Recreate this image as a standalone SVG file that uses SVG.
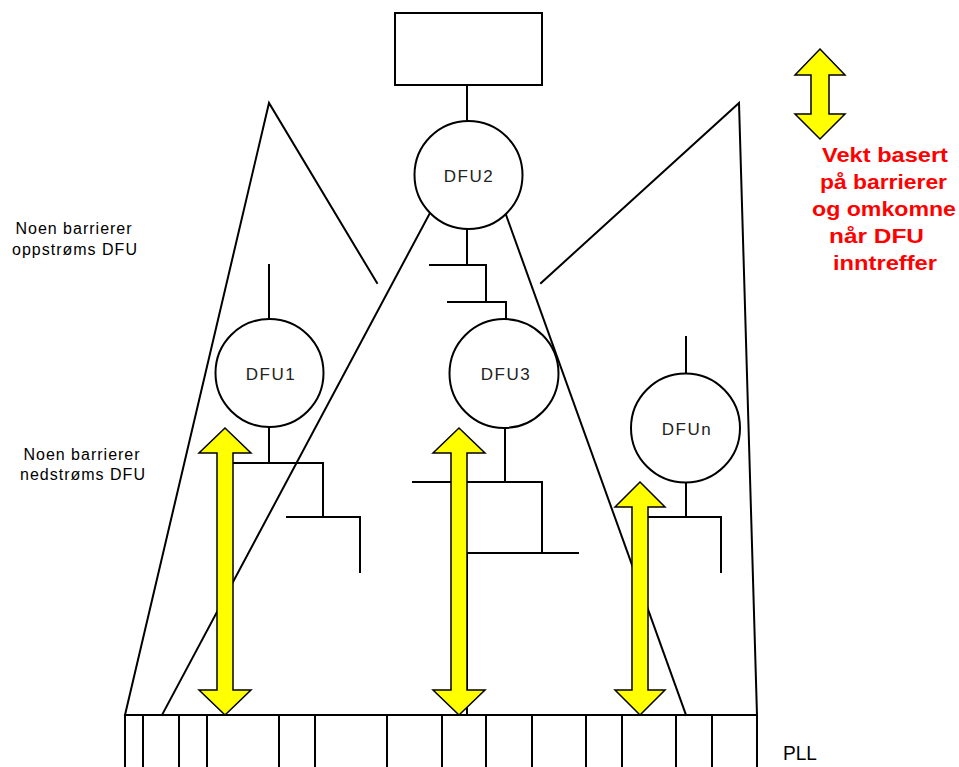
<svg xmlns="http://www.w3.org/2000/svg" width="959" height="767" viewBox="0 0 959 767">
<style>
.ln{stroke:#000;stroke-width:2;fill:none;stroke-linecap:square}
.nd{stroke:#000;stroke-width:2;fill:#fff}
.lbl{font-family:"Liberation Sans",Arial,sans-serif;font-size:17px;letter-spacing:1.5px;fill:#222;text-anchor:middle}
.note{font-family:"Liberation Sans",Arial,sans-serif;font-size:16px;letter-spacing:1px;fill:#000;text-anchor:middle}
.red{font-family:"Liberation Sans",Arial,sans-serif;font-size:21px;font-weight:bold;fill:#f00}
.arr{fill:#ff0;stroke:#000;stroke-width:1.5;stroke-linejoin:miter}
</style>
<rect width="959" height="767" fill="#fff"/>
<g id="connectors">
<!-- big triangles -->
<polyline class="ln" points="125,715 269,103 377,283"/>
<polyline class="ln" points="541,283 739,103 757,715"/>
<!-- DFU2 cone -->
<line class="ln" x1="431" y1="211" x2="162" y2="715"/>
<line class="ln" x1="505" y1="212" x2="686" y2="715"/>
<!-- top box to DFU2 -->
<line class="ln" x1="467" y1="85" x2="467" y2="121"/>
<!-- DFU2 to DFU3 -->
<polyline class="ln" points="467,229 467,265"/>
<polyline class="ln" points="430,265 486,265 486,302"/>
<polyline class="ln" points="448,302 506,302 506,319"/>
<!-- DFU1 -->
<line class="ln" x1="269" y1="265" x2="269" y2="319"/>
<polyline class="ln" points="269,427 269,463"/>
<polyline class="ln" points="233,463 323,463 323,517"/>
<polyline class="ln" points="287,517 360,517 360,572"/>
<!-- DFU3 -->
<polyline class="ln" points="505,428 505,482"/>
<polyline class="ln" points="413,482 542,482 542,553"/>
<polyline class="ln" points="467,715 467,553 578,553"/>
<!-- DFUn -->
<line class="ln" x1="686" y1="337" x2="686" y2="373"/>
<polyline class="ln" points="686,483 686,517"/>
<polyline class="ln" points="648,517 721,517 721,572"/>
<!-- PLL bar -->
<line class="ln" x1="125" y1="715" x2="757" y2="715"/>
<path class="ln" d="M125,715V767M143,715V767M179,715V767M207,715V767M279,715V767M315,715V767M387,715V767M442,715V767M486,715V767M532,715V767M586,715V767M622,715V767M676,715V767M712,715V767M757,715V767"/>
</g>
<g id="top-box"><rect class="nd" x="395" y="13" width="147" height="72"/></g>
<g id="DFU2"><circle class="nd" cx="468.5" cy="175" r="54"/><text class="lbl" x="469" y="182">DFU2</text></g>
<g id="DFU1"><circle class="nd" cx="269.5" cy="373" r="54"/><text class="lbl" x="271" y="380">DFU1</text></g>
<g id="DFU3"><circle class="nd" cx="504" cy="373.5" r="54.5"/><text class="lbl" x="506" y="380">DFU3</text></g>
<g id="DFUn"><circle class="nd" cx="685.5" cy="428" r="54.5"/><text class="lbl" x="687" y="435">DFUn</text></g>
<g id="arrows">
<path class="arr" d="M225,428 L251,453 L233,453 L233,690 L251,690 L225,715 L199,690 L217,690 L217,453 L199,453 Z"/>
<path class="arr" d="M459,428 L485,453 L467,453 L467,690 L485,690 L459,715 L433,690 L451,690 L451,453 L433,453 Z"/>
<path class="arr" d="M640,482 L665,507 L648,507 L648,690 L665,690 L640,715 L615,690 L632,690 L632,507 L615,507 Z"/>
<path class="arr" d="M820,49 L845,75 L829,75 L829,114 L845,114 L820,139 L795,114 L811,114 L811,75 L795,75 Z"/>
</g>
<g id="labels">
<text class="note" x="74" y="234">Noen barrierer</text>
<text class="note" x="75" y="255">oppstrøms DFU</text>
<text class="note" x="82" y="460">Noen barrierer</text>
<text class="note" x="83" y="480">nedstrøms DFU</text>
<text font-family="Liberation Sans, Arial, sans-serif" font-size="20" x="783" y="760" textLength="34" lengthAdjust="spacingAndGlyphs">PLL</text>
<text class="red" x="822" y="162" textLength="126" lengthAdjust="spacingAndGlyphs">Vekt basert</text>
<text class="red" x="820" y="189" textLength="127" lengthAdjust="spacingAndGlyphs">på barrierer</text>
<text class="red" x="812" y="216" textLength="144" lengthAdjust="spacingAndGlyphs">og omkomne</text>
<text class="red" x="829" y="243" textLength="95" lengthAdjust="spacingAndGlyphs">når DFU</text>
<text class="red" x="833" y="270" textLength="104" lengthAdjust="spacingAndGlyphs">inntreffer</text>
</g>
</svg>
